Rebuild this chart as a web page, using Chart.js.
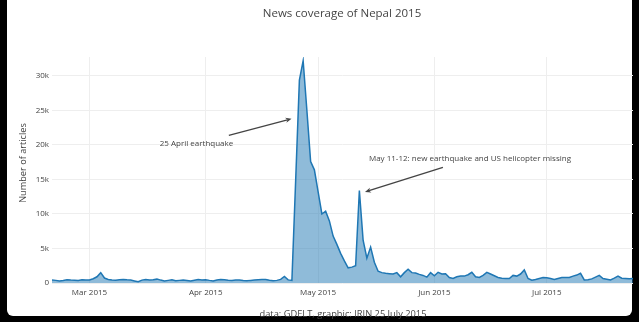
<!DOCTYPE html>
<html><head><meta charset="utf-8">
<script src="https://cdn.jsdelivr.net/npm/chart.js@4"></script>
<style>
html,body{margin:0;padding:0;background:#000;width:639px;height:322px;overflow:hidden}
#frame{position:absolute;left:7px;top:0;width:625px;height:316px;background:#fff;border-radius:0 0 6px 6px}
#wrap{position:absolute;left:0;top:0;width:639px;height:322px}
</style></head><body>
<div id="frame"></div>
<div id="wrap"><canvas id="c" width="639" height="322"></canvas></div>
<script>
const firstDay = '2015-02-19';
const articles = [
 450,380,300,360,480,420,400,380,460,420,
 440,620,900,1500,720,520,430,400,470,520,
 460,430,300,180,420,520,450,480,560,420,
 300,380,470,330,380,420,360,280,390,500,
 430,480,380,300,440,520,460,400,380,420,
 450,350,310,380,420,460,500,520,400,330,
 380,520,950,450,380,14800,29400,32200,25000,17600,
 16400,13200,10000,10400,9000,6800,5600,4300,3200,2200,
 2300,2500,13400,6200,3600,5200,3000,1700,1500,1400,
 1350,1300,1500,900,1500,2000,1500,1450,1250,1100,
 850,1500,1050,1550,1300,1350,800,650,900,1000,
 1000,1200,1550,900,800,1100,1550,1300,1050,800,
 700,650,650,1100,1000,1300,1900,650,400,500,
 650,800,750,650,500,650,800,780,800,1000,
 1150,1400,450,480,600,850,1100,650,550,450,
 700,1000,700,650,600,650
];
const monthTickDays = [10,41,71,102,132];
const monthTickLabels = ['Mar 2015','Apr 2015','May 2015','Jun 2015','Jul 2015'];
const yTickValues = [0,5000,10000,15000,20000,25000,30000];
const yTickLabels = ['0','5k','10k','15k','20k','25k','30k'];
const titleText = 'News coverage of Nepal 2015';
const yTitleText = 'Number of articles';
const creditText = 'data: GDELT, graphic: IRIN 25 July 2015';
const annotations = [
 {text:'25 April earthquake', x:63.9, y:23800, ax:-95, ay:25},
 {text:'May 11-12: new earthquake and US helicopter missing', x:83.5, y:13200, ax:105, ay:-33}
];

const FONT = "'Open Sans', sans-serif";
const TXT = '#444';

const textPlugin = {
  id:'texts',
  afterDatasetsDraw(chart){
    const ctx = chart.ctx;
    const xs = chart.scales.x, ys = chart.scales.y;
    ctx.save();
    ctx.fillStyle = TXT;
    ctx.textAlign = 'center';
    ctx.textBaseline = 'middle';
    ctx.font = '11.5px ' + FONT;
    ctx.fillText(titleText, 342, 14);
    ctx.font = '9.3px ' + FONT;
    ctx.fillText(creditText, 343, 314);
    ctx.save();
    ctx.translate(23, 163);
    ctx.rotate(-Math.PI/2);
    ctx.font = '9.2px ' + FONT;
    ctx.fillText(yTitleText, 0, 0);
    ctx.restore();
    ctx.font = '8px ' + FONT;
    annotations.forEach(a => {
      const tx = xs.getPixelForValue(a.x), ty = ys.getPixelForValue(a.y);
      const cx = tx + a.ax, cy = ty + a.ay;
      ctx.fillStyle = TXT;
      ctx.fillText(a.text, cx, cy);
      const hw = ctx.measureText(a.text).width/2 + 3, hh = 8.5;
      const dx = tx - cx, dy = ty - cy;
      const t = Math.min(hw/Math.abs(dx), hh/Math.abs(dy));
      const sx = cx + dx*t, sy = cy + dy*t;
      const len = Math.hypot(tx - sx, ty - sy);
      const ux = (tx - sx)/len, uy = (ty - sy)/len;
      const hl = 6, hwid = 2.6;
      ctx.strokeStyle = TXT;
      ctx.lineWidth = 1.3;
      ctx.beginPath();
      ctx.moveTo(sx, sy);
      ctx.lineTo(tx - ux*hl*0.7, ty - uy*hl*0.7);
      ctx.stroke();
      ctx.beginPath();
      ctx.moveTo(tx, ty);
      ctx.lineTo(tx - ux*hl - uy*hwid, ty - uy*hl + ux*hwid);
      ctx.lineTo(tx - ux*hl*0.7, ty - uy*hl*0.7);
      ctx.lineTo(tx - ux*hl + uy*hwid, ty - uy*hl - ux*hwid);
      ctx.closePath();
      ctx.fill();
    });
    ctx.restore();
  }
};

new Chart(document.getElementById('c'), {
  type:'line',
  data:{
    datasets:[{
      data: articles.map((v,i)=>({x:i, y:v})),
      borderColor:'#1f77b4',
      backgroundColor:'rgba(31,119,180,0.5)',
      borderWidth:1.5,
      fill:'origin',
      pointRadius:0,
      tension:0
    }]
  },
  options:{
    responsive:false,
    animation:false,
    devicePixelRatio:1,
    layout:{padding:{left:0,right:6,top:57,bottom:19}},
    plugins:{legend:{display:false},tooltip:{enabled:false},title:{display:false}},
    scales:{
      x:{
        type:'linear', min:0, max:articles.length-1,
        afterBuildTicks: s => { s.ticks = monthTickDays.map(v=>({value:v})); },
        afterFit: s => { s.height = 20; },
        grid:{color:'#eeeeee', drawTicks:false, lineWidth:1},
        border:{display:false},
        ticks:{padding:5, color:TXT, font:{family:FONT, size:8}, maxRotation:0, autoSkip:false,
          callback:(v,i)=>monthTickLabels[i]}
      },
      y:{
        min:0, max:32750,
        afterBuildTicks: s => { s.ticks = yTickValues.map(v=>({value:v})); },
        afterFit: s => { s.width = 52; },
        grid:{color:'#eeeeee', drawTicks:false, lineWidth:1},
        border:{display:false},
        ticks:{padding:3, color:TXT, font:{family:FONT, size:8},
          callback:(v,i)=>yTickLabels[i]}
      }
    }
  },
  plugins:[textPlugin]
});
</script>
</body></html>
